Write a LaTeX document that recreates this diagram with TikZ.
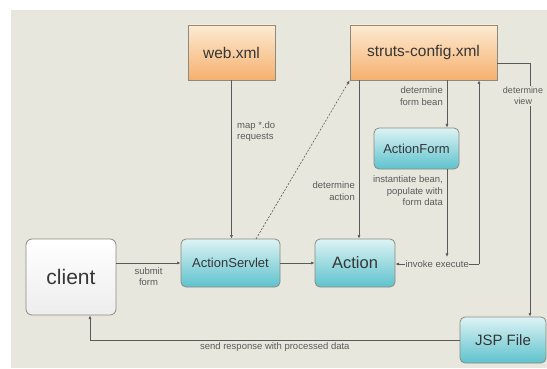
\documentclass[tikz,border=0pt]{standalone}
\usepackage{fontspec}
\setmainfont{Liberation Sans}
\usetikzlibrary{arrows.meta}
\definecolor{bg}{HTML}{E8E7DE}
\definecolor{orT}{HTML}{FDEBD2}
\definecolor{orB}{HTML}{F5B06E}
\definecolor{cyT}{HTML}{DDF3F4}
\definecolor{cyB}{HTML}{5EC2CD}
\definecolor{bd}{HTML}{8C8A80}
\definecolor{ln}{HTML}{5A5A5A}
\definecolor{tx}{HTML}{363636}
\tikzset{
 box/.style={draw=bd, line width=0.8pt, inner sep=0pt, text=tx},
 orbox/.style={box, top color=orT, bottom color=orB, font=\fontsize{15.5}{18}\selectfont},
 cybox/.style={box, rounded corners=5pt, top color=cyT, bottom color=cyB},
 clbox/.style={box, rounded corners=6pt, top color=white, bottom color=black!7, font=\fontsize{21}{24}\selectfont},
 conn/.style={draw=ln, line width=0.6pt, -{Latex[length=3.6pt,width=3pt]}},
 lbl/.style={font=\fontsize{9.5}{11.5}\selectfont, text=ln, inner sep=1pt},
}
\begin{document}
\begin{tikzpicture}[x=1pt,y=-1pt]
\useasboundingbox (0,0) rectangle (547,369);
\fill[white] (0,0) rectangle (547,369);
\fill[bg] (11,10) rectangle (547,368);

\node[orbox, minimum width=87pt, minimum height=55pt] (web) at (231.5,52.5) {web.xml};
\node[orbox, minimum width=147pt, minimum height=55pt] (sc) at (423.5,52.5) {struts-config.xml};
\node[cybox, minimum width=85pt, minimum height=41pt, font=\fontsize{13}{15}\selectfont] (af) at (416.5,148.5) {ActionForm};
\node[clbox, minimum width=90pt, minimum height=76pt] (cl) at (71,277) {client};
\node[cybox, minimum width=99pt, minimum height=48pt, font=\fontsize{13}{15}\selectfont] (as) at (230.5,263) {ActionServlet};
\node[cybox, minimum width=80pt, minimum height=48pt, font=\fontsize{16.5}{19}\selectfont] (act) at (355,263) {Action};
\node[cybox, minimum width=86pt, minimum height=46pt, font=\fontsize{15}{18}\selectfont] (jsp) at (503,340) {JSP File};

\coordinate (cA) at (359,0);
\coordinate (cF) at (447,0);
\coordinate (inv) at (479,264);
\coordinate (afend) at (447,257);
\coordinate (dv) at (530,63);
\coordinate (rs) at (90,340);
\coordinate (sd) at (256,239);

\draw[conn] (web.south) -- (web.south |- as.north);
\draw[conn, dash pattern=on 2pt off 1.5pt] (sd) -- (sc.south west);
\draw[conn] (sc.south -| cA) -- (act.north -| cA);
\draw[conn] (sc.south -| cF) -- (af.north -| cF);
\draw[conn] (af.south -| cF) -- (afend);
\draw[conn] (inv) -- (sc.south -| inv);
\draw[conn] (inv) -- node[lbl, fill=bg, inner sep=0.5pt] (lie) {invoke execute} (act.east |- inv);
\draw[conn] (sc.east |- dv) -- (dv) -- (jsp.north -| dv);
\draw[conn] (jsp.west |- rs) -- node[lbl, below=1pt] (lsr) {send response with processed data} (rs) -- (cl.south -| rs);
\draw[conn] (cl.east |- as.west) -- node[lbl, below=3pt, align=center] (lsf) {submit\\form} (as.west);
\draw[conn] (as.east) -- (act.west);

\node[lbl, fill=bg, align=center, font=\fontsize{9}{11}\selectfont] (ldv) at (523,96) {determine\\view};
\node[lbl, anchor=north west, align=left] (lmap) at (236,120) {map *.do\\requests};
\node[lbl, anchor=east, align=right] (lfb) at (444,96) {determine\\form bean};
\node[lbl, anchor=east, align=right] (lda) at (356,191) {determine\\action};
\node[lbl, anchor=east, align=right] (lib) at (444,191) {instantiate bean,\\populate with\\form data};
\end{tikzpicture}
\end{document}
